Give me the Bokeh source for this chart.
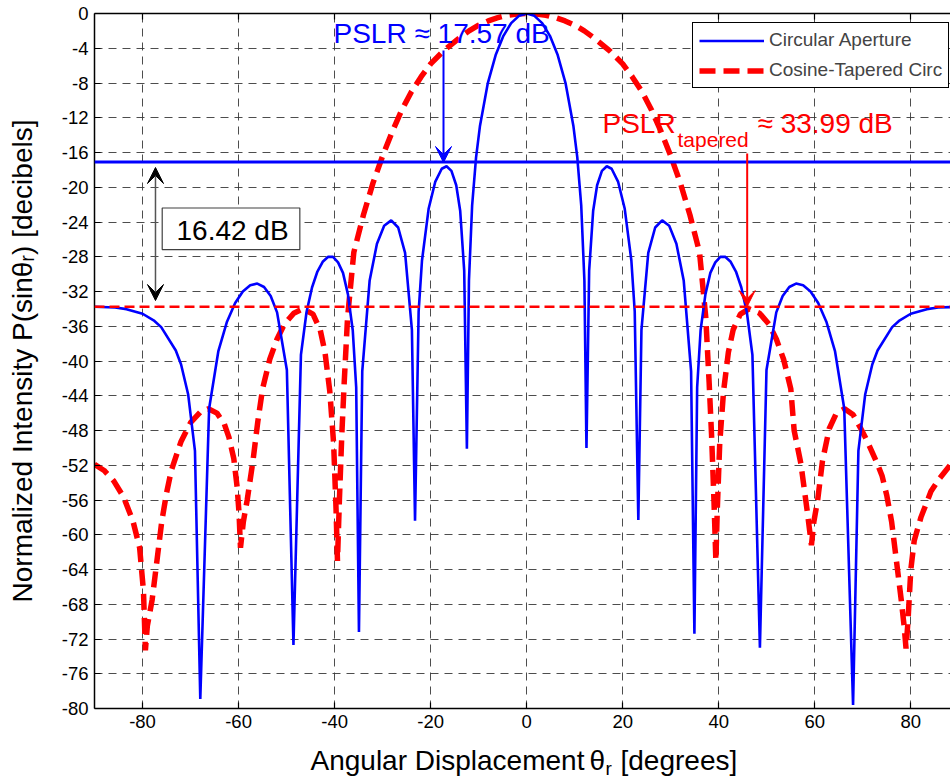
import math
from bokeh.plotting import figure
from bokeh.layouts import column
from bokeh.core.properties import value
from bokeh.models import (Range1d, LinearAxis, FixedTicker, Span, Label, Arrow, VeeHead,
                          BoxAnnotation, Legend, LegendItem, ColumnDataSource)
from bokeh.embed import file_html
from bokeh.resources import INLINE

FONT = "Liberation Sans"

# ---------------- data ----------------
# Circular (uniform) aperture pattern, dB vs angle (degrees)
circ_theta = [
    -90, -85.7, -83.34, -79.99, -77.52, -76.11, -73.07, -71.97, -70.49, -69.08,
    -67.97, -66.13, -64.22, -62.41, -60.71, -59.11, -57.57, -56.10, -54.69, -53.31,
    -51.98, -49.94, -48.57, -47.01, -45.85, -44.70, -43.58, -42.48, -41.39, -40.33,
    -39.28, -38.25, -37.22, -36.22, -35.5, -34.93, -34.24, -32.70, -31.18, -29.68,
    -28.21, -26.76, -25.32, -23.90, -23.25, -22.50, -21.80, -20.42, -19.05, -17.69,
    -16.68, -15.67, -14.67, -13.84, -13.01, -12.45, -12.02, -11.36, -10.54, -9.72,
    -8.09, -6.46, -4.84, -3.23, -1.61,
    0,
    1.61, 3.23, 4.84, 6.46, 8.09, 9.72, 10.54, 11.36, 12.02, 12.45,
    13.01, 13.84, 14.67, 15.67, 16.68, 17.69, 19.05, 20.42, 21.80, 22.50,
    23.25, 23.90, 25.32, 26.76, 28.21, 29.68, 31.18, 32.70, 34.24, 34.93,
    35.5, 36.22, 37.22, 38.25, 39.28, 40.33, 41.39, 42.48, 43.58, 44.70,
    45.85, 47.01, 48.57, 49.94, 51.98, 53.31, 54.69, 56.10, 57.57, 59.11,
    60.71, 62.41, 64.22, 66.13, 67.97, 69.08, 70.49, 71.97, 73.07, 76.11,
    77.52, 79.99, 83.34, 85.7, 90,
]
circ_db = [
    -33.75, -33.85, -34.03, -34.56, -35.39, -36.1, -38.79, -40.41, -43.86, -50.35,
    -78.9, -45.47, -38.9, -35.47, -33.32, -31.99, -31.27, -31.09, -31.48, -32.51,
    -34.4, -41.04, -72.7, -39.3, -34.39, -31.54, -29.70, -28.58, -28.02, -28.02,
    -28.65, -29.86, -32.33, -36.46, -43.05, -71.2, -41.2, -30.73, -26.51, -24.43,
    -23.81, -24.63, -27.56, -36.43, -58.4, -34.3, -28.43, -22.48, -19.39, -17.87,
    -17.58, -18.11, -19.77, -22.74, -29.6, -50.1, -30.73, -22.1, -16.57, -12.91,
    -8.01, -4.78, -2.57, -1.11, -0.27,
    0,
    -0.27, -1.11, -2.57, -4.78, -8.01, -12.91, -16.57, -22.1, -30.73, -50.0,
    -29.6, -22.74, -19.77, -18.11, -17.58, -17.87, -19.39, -22.48, -28.43, -34.3,
    -58.3, -36.43, -27.56, -24.63, -23.81, -24.43, -26.51, -30.73, -41.2, -71.4,
    -43.05, -36.46, -32.33, -29.86, -28.65, -28.02, -28.02, -28.58, -29.70, -31.54,
    -34.39, -39.3, -73.0, -41.04, -34.4, -32.51, -31.48, -31.09, -31.27, -31.99,
    -33.32, -35.47, -38.9, -45.47, -79.6, -50.35, -43.86, -40.41, -38.79, -36.1,
    -35.39, -34.56, -34.03, -33.85, -33.75,
]

# Cosine-tapered circular aperture pattern
taper_theta = [
    -90, -88, -86, -84, -82, -80.6, -79.8, -79.4, -79.0, -78.0,
    -77.0, -76.0, -75.0, -74.0, -72.0, -70.0, -68.0, -66.3, -64.5, -63.0,
    -62.0, -61.0, -60.3, -59.9, -59.6, -59.0, -58.2, -57.0, -56.0, -55.0,
    -53.5, -52.0, -50.5, -48.5, -46.6, -44.5, -43.0, -42.0, -41.0, -40.2,
    -39.7, -39.4, -39.0, -38.5, -38.0, -37.3, -36.0, -34.0, -32.0, -30.0,
    -28.0, -26.0, -24.0, -22.0, -20.0, -17.3, -14.0, -12.0, -10.0, -8.0,
    -6.0, -4.0, -2.0, 0,
    2.0, 4.0, 6.0, 8.0, 10.0, 12.0, 14.0, 17.3, 20.0, 22.0,
    24.0, 26.0, 28.0, 30.0, 32.0, 34.0, 36.0, 37.3, 38.0, 38.5,
    39.0, 39.4, 39.7, 40.2, 41.0, 42.0, 43.0, 44.5, 46.3, 48.5,
    50.5, 52.0, 53.5, 55.0, 55.7, 57.1, 58.5, 59.3, 59.8, 60.6,
    61.6, 63.0, 64.5, 66.2, 68.0, 69.6, 70.9, 73.0, 74.0, 75.0,
    76.0, 77.0, 78.0, 78.6, 79.0, 79.4, 80.0, 80.7, 82.1, 84.2,
    86.0, 88.3, 90,
]
taper_db = [
    -51.9, -52.6, -53.8, -55.6, -58.4, -61.5, -66.5, -73.3, -70.5, -67.5,
    -63.0, -58.5, -55.2, -52.6, -49.3, -47.1, -45.9, -45.5, -46.0, -47.2,
    -48.8, -51.2, -54.5, -57.5, -61.5, -58.5, -56.0, -51.5, -47.0, -43.2,
    -39.8, -37.5, -35.8, -34.5, -34.0, -34.6, -36.4, -39.0, -43.5, -49.5,
    -57.0, -63.0, -56.0, -48.5, -42.5, -35.0, -27.5, -23.2, -19.5, -16.4,
    -13.6, -11.1, -9.0, -7.3, -5.8, -4.3, -2.8, -2.0, -1.35, -0.85,
    -0.48, -0.2, -0.05, 0,
    -0.05, -0.2, -0.48, -0.85, -1.35, -2.0, -2.8, -4.3, -5.8, -7.3,
    -9.0, -11.1, -13.6, -16.4, -19.5, -23.2, -27.5, -35.0, -42.5, -48.5,
    -56.0, -63.0, -57.0, -49.5, -43.5, -39.0, -36.4, -34.6, -34.0, -34.5,
    -35.8, -37.5, -39.8, -43.2, -48.0, -51.8, -57.6, -61.2, -58.5, -56.0,
    -51.5, -47.8, -46.0, -45.5, -46.2, -47.8, -49.2, -51.8, -53.2, -55.5,
    -58.5, -63.0, -67.5, -70.5, -73.1, -70.0, -64.0, -60.7, -58.0, -55.0,
    -53.5, -51.9, -51.2,
]

x_ticks = [-80, -60, -40, -20, 0, 20, 40, 60, 80]
y_ticks = [0, -4, -8, -12, -16, -20, -24, -28, -32, -36, -40, -44, -48, -52,
           -56, -60, -64, -68, -72, -76, -80]

pslr_circ_line = -17.1       # blue reference line
pslr_taper_line = -33.75     # red reference line
series_names = ["Circular Aperture", "Cosine-Tapered Circ"]
y_title = "Normalized Intensity P(sin\u03b8\u1d63) [decibels]"
x_title_parts = ["Angular Displacement", "\u03b8", "[degrees]"]
x_title_sub = "r"

# ---------------- main figure ----------------
p = figure(width=950, height=741, x_range=Range1d(-90, 88.26), y_range=Range1d(-80, 0),
           output_backend="svg", toolbar_location=None,
           min_border_left=94, min_border_right=0, min_border_top=13, min_border_bottom=33)
p.outline_line_color = None
p.background_fill_color = "white"
p.border_fill_color = "white"

for ax, ticks in ((p.xaxis, x_ticks), (p.yaxis, y_ticks)):
    ax.ticker = FixedTicker(ticks=ticks)
    ax.major_label_overrides = {t: str(t) for t in ticks}
    ax.major_tick_in = 6
    ax.major_tick_out = 0
    ax.minor_tick_line_color = None
    ax.axis_line_width = 1.5
    ax.axis_line_color = "black"
    ax.major_tick_line_color = "black"
    ax.major_tick_line_width = 1.2
    ax.major_label_text_font = FONT
    ax.major_label_text_font_size = "18.5px"
    ax.major_label_text_color = "black"
    ax.major_label_standoff = 6
    ax.axis_label_text_font = FONT
    ax.axis_label_text_font_size = "28px"
    ax.axis_label_text_font_style = "normal"
    ax.axis_label_text_color = "black"

p.yaxis.axis_label = y_title
p.yaxis.axis_label_standoff = 21

top = LinearAxis(ticker=FixedTicker(ticks=x_ticks),
                 major_label_overrides={t: "" for t in x_ticks},
                 major_label_text_font_size="1px",
                 major_label_standoff=0, major_tick_in=6, major_tick_out=0,
                 minor_tick_line_color=None, axis_line_width=1.5, axis_line_color="black",
                 major_tick_line_width=1.2)
p.add_layout(top, "above")

p.xgrid.ticker = FixedTicker(ticks=x_ticks)
p.ygrid.ticker = FixedTicker(ticks=y_ticks)
for g in (p.xgrid, p.ygrid):
    g.grid_line_color = "#3a3a3a"
    g.grid_line_width = 1
    g.grid_line_dash = "8 6"
    g.grid_line_alpha = 0.9

p.add_layout(Span(location=pslr_circ_line, dimension="width", line_color="blue", line_width=3))

circ_src = ColumnDataSource(dict(x=circ_theta, y=circ_db))
taper_src = ColumnDataSource(dict(x=taper_theta, y=taper_db))
red_r = p.line("x", "y", source=taper_src, line_color="red", line_width=5.5, line_dash="16 8")
blue_r = p.line("x", "y", source=circ_src, line_color="blue", line_width=2.6)

p.add_layout(Span(location=pslr_taper_line, dimension="width", line_color="red",
                  line_width=2.5, line_dash="10 5"))

# ---------------- annotations ----------------
def lab(x, y, text, size="28px", color="black", align="left", angle=0.0):
    p.add_layout(Label(x=x, y=y, text=text, text_font=FONT, text_font_size=size,
                       text_color=color, text_align=align, text_baseline="alphabetic",
                       angle=angle))

lab(-40.23, -2.3, "PSLR \u2248 17.57 dB", color="blue")
lab(15.79, -12.66, "PSLR", color="red")
lab(31.41, -14.55, "tapered", size="21px", color="red")
lab(48.07, -12.66, "\u2248 33.99 dB", color="red")

p.add_layout(Arrow(end=VeeHead(size=16, line_color="blue", fill_color="blue", line_width=1),
                   x_start=-17.32, y_start=-4.26, x_end=-17.32, y_end=-17.15,
                   line_color="blue", line_width=2))
p.add_layout(Arrow(end=VeeHead(size=16, line_color="red", fill_color="red", line_width=1),
                   x_start=45.92, y_start=-16.12, x_end=45.92, y_end=-33.73,
                   line_color="red", line_width=2))
p.add_layout(Arrow(start=VeeHead(size=16, line_color="black", fill_color="black", line_width=1),
                   end=VeeHead(size=16, line_color="black", fill_color="black", line_width=1),
                   x_start=-77.30, y_start=-33.04, x_end=-77.30, y_end=-17.73,
                   line_color="#555555", line_width=1.5))

p.add_layout(BoxAnnotation(left=-75.90, right=-47.24, top=-22.39, bottom=-27.17,
                           fill_color="white", fill_alpha=1.0, line_color="#404040",
                           line_alpha=1.0, line_width=1.2))
lab(-72.92, -25.0, "16.42 dB")

legend = Legend(items=[LegendItem(label=series_names[0], renderers=[blue_r]),
                       LegendItem(label=series_names[1], renderers=[red_r])],
                location=(598, 620), padding=6, spacing=8, glyph_width=65, glyph_height=21,
                label_height=21, label_standoff=5, label_text_font=FONT,
                label_text_font_size="19px", border_line_color="black", border_line_width=1,
                border_line_alpha=1.0, background_fill_color="white", background_fill_alpha=1.0,
                margin=0)
p.add_layout(legend)

# ---------------- x-axis title strip (shares the x scale) ----------------
p2 = figure(width=950, height=35, x_range=p.x_range, y_range=Range1d(0, 35),
            output_backend="svg", toolbar_location=None, x_axis_type=None, y_axis_type=None,
            min_border_left=94, min_border_right=0, min_border_top=0, min_border_bottom=0)
p2.outline_line_color = None
p2.grid.visible = False
p2.background_fill_color = "white"
p2.border_fill_color = "white"
p2.text(x=[-45.02, 13.08, 19.54], y=[16, 16, 16], text=x_title_parts,
        text_font=value(FONT), text_font_size=value("28px"), text_color="black",
        text_align="left", text_baseline="alphabetic")
p2.text(x=[16.41], y=[8], text=[x_title_sub],
        text_font=value(FONT), text_font_size=value("19px"), text_color="black",
        text_align="left", text_baseline="alphabetic")

layout = column(p, p2, spacing=0)
open("out.html", "w").write(file_html(layout, INLINE))
